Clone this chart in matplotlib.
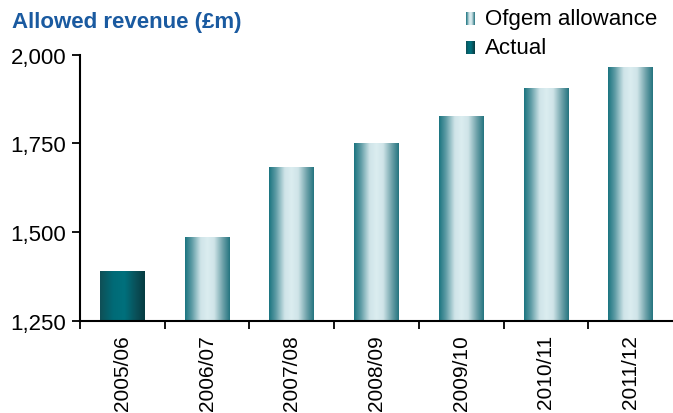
import numpy as np
import matplotlib; matplotlib.use('Agg')
import matplotlib.pyplot as plt
from matplotlib.colors import LinearSegmentedColormap

plt.rcParams.update({"font.family": ["Liberation Sans", "DejaVu Sans"], "font.size": 16})

years = ["2005/06", "2006/07", "2007/08", "2008/09", "2009/10", "2010/11", "2011/12"]
revenue = [1390, 1486, 1683, 1750, 1827, 1906, 1964]
is_actual = [True, False, False, False, False, False, False]

OFGEM = LinearSegmentedColormap.from_list("ofgem", [
    (0.0, "#1a7480"), (0.15, "#5d9ba4"), (0.35, "#cfe4e8"), (0.5, "#dbedf0"),
    (0.65, "#cfe4e8"), (0.85, "#6a9fa7"), (1.0, "#24747f")])
ACTUAL = LinearSegmentedColormap.from_list("actual", [
    (0.0, "#0f4f56"), (0.3, "#006b77"), (0.55, "#00707c"), (0.8, "#0a5059"), (1.0, "#053b41")])
grad = np.linspace(0, 1, 256).reshape(1, -1)

fig = plt.figure(figsize=(6.73, 4.14), dpi=100)
ax = fig.add_axes([0.119, 0.223, 0.881, 0.6425])
x = np.arange(len(years))
bars = ax.bar(x, revenue, width=0.53, bottom=0, color="none", edgecolor="none")
for b, act in zip(bars, is_actual):
    x0, w, h = b.get_x(), b.get_width(), b.get_height()
    ax.imshow(grad, cmap=ACTUAL if act else OFGEM, aspect="auto",
              extent=(x0, x0 + w, 1250, h), zorder=2, interpolation="bilinear")

ax.set_xlim(-0.5, len(years) - 0.5)
ax.set_ylim(1250, 2000)
ax.set_yticks([1250, 1500, 1750, 2000])
ax.set_yticklabels(["1,250", "1,500", "1,750", "2,000"], fontsize=16)
ax.set_xticks(x - 0.5, minor=False)
ax.set_xticklabels([])
ax.set_xticks(x, minor=True)
ax.set_xticklabels(years, minor=True, rotation=90, fontsize=15, va="top")
ax.tick_params(axis="x", which="minor", length=0, pad=9.5)
ax.tick_params(axis="x", which="major", length=6, width=1.3, direction="out")
ax.tick_params(axis="y", length=6, width=1.3, direction="out", pad=4)
for s in ["top", "right"]:
    ax.spines[s].set_visible(False)
for s in ["left", "bottom"]:
    ax.spines[s].set_linewidth(1.5)

fig.text(0.018, 0.945, "Allowed revenue (£m)", color="#1a5aa0", fontsize=16,
         fontweight="bold", ha="left", va="center")

# legend with gradient swatches
for (label, cmap, ytop) in [("Ofgem allowance", OFGEM, 13), ("Actual", ACTUAL, 42)]:
    sw = fig.add_axes([466 / 673, 1 - (ytop + 13) / 414, 9 / 673, 13 / 414])
    sw.imshow(grad, cmap=cmap, aspect="auto", interpolation="bilinear")
    sw.axis("off")
    fig.text(485 / 673, 1 - (ytop + 6.5) / 414, label, fontsize=16, ha="left", va="center")

fig.savefig("out.png", dpi=100)
